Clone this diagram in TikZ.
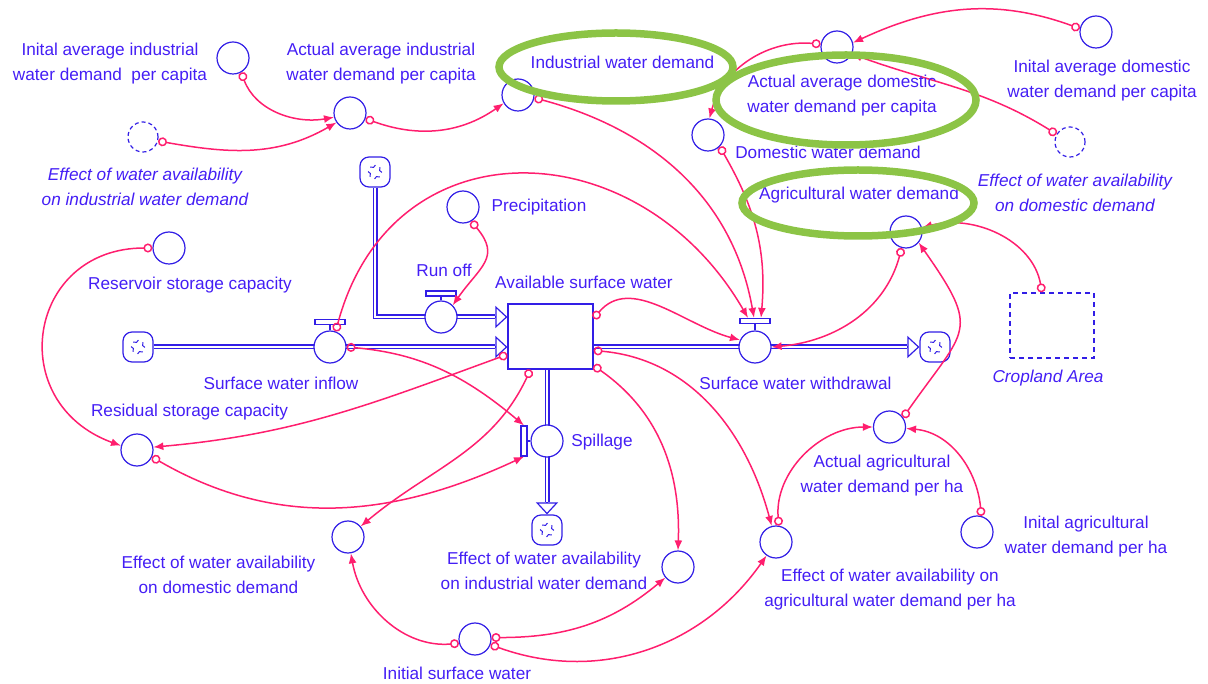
\documentclass[tikz,border=0pt]{standalone}
\usepackage{fontspec}
\setmainfont{Liberation Sans}
\usetikzlibrary{arrows.meta}
\pgfdeclarelayer{bg}
\pgfsetlayers{bg,main}
\definecolor{vblue}{RGB}{50,30,230}
\definecolor{vtext}{RGB}{68,30,245}
\definecolor{vpink}{RGB}{255,30,110}
\definecolor{vgreen}{RGB}{140,196,70}
\tikzset{
  every node/.style={font=\fontsize{17.2}{25}\selectfont, text=vtext},
  lbl/.style={align=center, inner sep=0pt},
  ilbl/.style={lbl, font=\fontsize{17.2}{25}\selectfont\itshape},
  aux/.style={circle, draw=vblue, line width=1.2pt, minimum size=32pt, inner sep=0pt, fill=white},
  shadowc/.style={circle, draw=vblue, line width=1.2pt, minimum size=30pt, inner sep=0pt, dash pattern=on 4pt off 3pt},
  shadowbox/.style={rectangle, draw=vblue, line width=1.4pt, minimum width=84pt, minimum height=65pt, inner sep=0pt, dash pattern=on 5pt off 4pt},
  stockbox/.style={rectangle, draw=vblue, line width=1.2pt, fill=white, minimum width=85pt, minimum height=65pt, inner sep=0pt},
  valvebar/.style={rectangle, draw=vblue, line width=1.2pt, fill=white, minimum width=30pt, minimum height=5pt, inner sep=0pt},
  stem/.style={draw=vblue, line width=1.2pt},
  cloudn/.style={rectangle, rounded corners=9pt, draw=vblue, line width=1.2pt, fill=white, minimum size=30pt, inner sep=0pt,
    path picture={\foreach \a in {45,135,225,315}{\draw[vblue, line width=1pt] ([shift={(\a:7pt)}]path picture bounding box.center) arc[start angle=\a+100, end angle=\a+210, radius=3.5pt];}}},
  pipe/.style={draw=vblue, line width=1.1pt, double=white, double distance=2.8pt},
  pipetip/.style={draw=vblue, line width=1.2pt, arrows={-Triangle[length=12pt, width=22pt, fill=white]}},
  link/.style={draw=vpink, line width=1.5pt, arrows={Circle[open, length=9pt, width=9pt]-Latex[length=10pt, width=8pt]}},
  ring/.style={draw=vgreen, line width=7.5pt}
}
\begin{document}
\begin{tikzpicture}[x=1pt,y=-1pt]
\useasboundingbox (0,0) rectangle (1208,684);

% auxiliary variables
\node[aux] (iaind) at (233,58) {};
\node[aux] (aaind) at (350,113) {};
\node[shadowc] (effindsh) at (143,137) {};
\node[aux] (indd) at (518,95) {};
\node[aux] (aadom) at (837,47) {};
\node[aux] (iadom) at (1096,32) {};
\node[shadowc] (effdomsh) at (1070,142) {};
\node[aux] (domd) at (708,135) {};
\node[aux] (agrd) at (906,232) {};
\node[shadowbox] (crop) at (1052,325.5) {};
\node[aux] (prec) at (463,207) {};
\node[aux] (rsc) at (169,248) {};
\node[aux] (resid) at (137,450) {};
\node[aux] (effdom) at (348,537) {};
\node[aux] (effind) at (678,567) {};
\node[aux] (effagr) at (776,542) {};
\node[aux] (isw) at (475,639) {};
\node[aux] (aagr) at (889.5,427) {};
\node[aux] (iagr) at (977,532) {};

% stock
\node[stockbox] (stock) at (550.5,336.5) {};

% clouds
\node[cloudn] (c1) at (375,172) {};
\node[cloudn] (c2) at (138,347) {};
\node[cloudn] (c3) at (935,347) {};
\node[cloudn] (c4) at (547,530) {};

% flow valves
\node[aux] (runoff) at (441,317) {};
\node[valvebar] (robar) at (441,293.5) {};
\node[aux] (swin) at (330,347) {};
\node[valvebar] (swinbar) at (330,322) {};
\node[aux] (swout) at (755,347) {};
\node[valvebar] (swoutbar) at (755,321) {};
\node[aux] (spill) at (547,441) {};
\node[valvebar, minimum width=6pt, minimum height=30pt] (spbar) at (524,441) {};
\draw[stem] (robar.south) -- (runoff.north);
\draw[stem] (swinbar.south) -- (swin.north);
\draw[stem] (swoutbar.south) -- (swout.north);
\draw[stem] (spbar.east) -- (spill.west);

% pipes
\begin{pgfonlayer}{bg}
\draw[pipe] (c1.south) |- ([xshift=-12pt]stock.west |- runoff.center);
\draw[pipetip] ([xshift=-12pt]stock.west |- runoff.center) -- (stock.west |- runoff.center);
\draw[pipe] (c2.east) -- ([xshift=-12pt]stock.west |- swin.center);
\draw[pipetip] ([xshift=-12pt]stock.west |- swin.center) -- (stock.west |- swin.center);
\draw[pipe] (stock.east |- swout.center) -- ([xshift=-12pt]c3.west);
\draw[pipetip] ([xshift=-12pt]c3.west) -- (c3.west);
\draw[pipe] (spill.center |- stock.south) -- ([yshift=12pt]c4.north);
\draw[pipetip] ([yshift=12pt]c4.north) -- (c4.north);
\end{pgfonlayer}

% causal links
\draw[link] (iaind.-60) to[out=-70,in=190] (aaind.195);
\draw[link] (effindsh.-15) to[out=-10,in=210] (aaind.215);
\draw[link] (aaind.-20) to[out=-20,in=215] (indd.210);
\draw[link] (indd.-10) to[out=-15,in=100] ([xshift=-1pt]swoutbar.north);
\draw[link] (aadom.170) to[out=175,in=75] (domd.85);
\draw[link] (iadom.168) to[out=160,in=25] (aadom.15);
\draw[link] (effdomsh.150) to[out=148,in=-20] (aadom.-25);
\draw[link] (domd.-45) to[out=-60,in=85] ([xshift=6pt]swoutbar.north);
\draw[link] (agrd.-105) to[out=-105,in=5] (swout.east);
\draw[link] (aagr.35) to[out=55,in=-55,looseness=1.6] (agrd.-40);
\draw[link] ([xshift=-10pt]crop.north) to[out=100,in=15] (agrd.15);
\draw[link] (prec.-60) to[out=-50,in=55,looseness=1.4] (runoff.45);
\draw[link] (swin.70) to[out=75,in=120,looseness=1.35] ([xshift=-7pt]swoutbar.north);
\draw[link] ([yshift=18pt]stock.east) to[out=50,in=165] (swout.155);
\draw[link] ([yshift=-14pt]stock.east) to[out=-5,in=105] (effagr.105);
\draw[link] ([yshift=4pt]stock.south east) to[out=-35,in=88] (effind.90);
\draw[link] ([yshift=-18pt]stock.west) to[out=200,in=5] (resid.10);
\draw[link] ([xshift=-20pt]stock.south) to[out=-115,in=40] (effdom.40);
\draw[link] (swin.0) to[out=-5,in=140] (spbar.north);
\draw[link] (resid.-25) to[out=-30,in=205] (spbar.south);
\draw[link] (rsc.180) to[out=180,in=160,looseness=1.6] (resid.165);
\draw[link] (isw.195) to[out=185,in=-80] (effdom.-80);
\draw[link] (isw.5) to[out=0,in=220] (effind.220);
\draw[link] (isw.-20) to[out=-20,in=235] (effagr.235);
\draw[link] (iagr.75) to[out=95,in=-5] (aagr.-5);
\draw[link] (effagr.80) to[out=95,in=180] (aagr.180);

% labels
\node[lbl] (tiaind) at (110,63.5) {Inital average industrial\\water demand\ \ per capita};
\node[lbl] (taaind) at (381,63.5) {Actual average industrial\\water demand per capita};
\node[ilbl] (teffindsh) at (145,187) {Effect of water availability\\on industrial water demand};
\node[lbl] (tindd) at (622.5,62) {Industrial water demand};
\node[lbl] (taadom) at (842,95.5) {Actual average domestic\\water demand per capita};
\node[lbl] (tiadom) at (1102,80.5) {Inital average domestic\\water demand per capita};
\node[lbl] (tdomd) at (828,152) {Domestic water demand};
\node[ilbl] (teffdomsh) at (1075,192.5) {Effect of water availability\\on domestic demand};
\node[lbl] (tagrd) at (859,195) {Agricultural water demand};
\node[lbl] (tprec) at (539,207) {Precipitation};
\node[lbl] (trunoff) at (444,270) {Run off};
\node[lbl] (tstock) at (584,282) {Available surface water};
\node[lbl] (trsc) at (190,285) {Reservoir storage capacity};
\node[lbl] (tswin) at (281,383) {Surface water inflow};
\node[lbl] (tswout) at (795.5,383) {Surface water withdrawal};
\node[ilbl] (tcrop) at (1048,378) {Cropland Area};
\node[lbl] (tresid) at (189.5,412) {Residual storage capacity};
\node[lbl] (tspill) at (602,442) {Spillage};
\node[lbl] (taagr) at (882,476) {Actual agricultural\\water demand per ha};
\node[lbl] (tiagr) at (1086,536.5) {Inital agricultural\\water demand per ha};
\node[lbl] (teffdom) at (218.5,575) {Effect of water availability\\on domestic demand};
\node[lbl] (teffind) at (544,571) {Effect of water availability\\on industrial water demand};
\node[lbl] (teffagr) at (890,590) {Effect of water availability on\\agricultural water demand per ha};
\node[lbl] (tisw) at (457,673) {Initial surface water};

% highlight rings
\draw[ring] (616,67) ellipse [x radius=117pt, y radius=34pt];
\draw[ring] (846,100) ellipse [x radius=130pt, y radius=45pt];
\draw[ring] (858,203) ellipse [x radius=116pt, y radius=33pt];
\end{tikzpicture}
\end{document}
